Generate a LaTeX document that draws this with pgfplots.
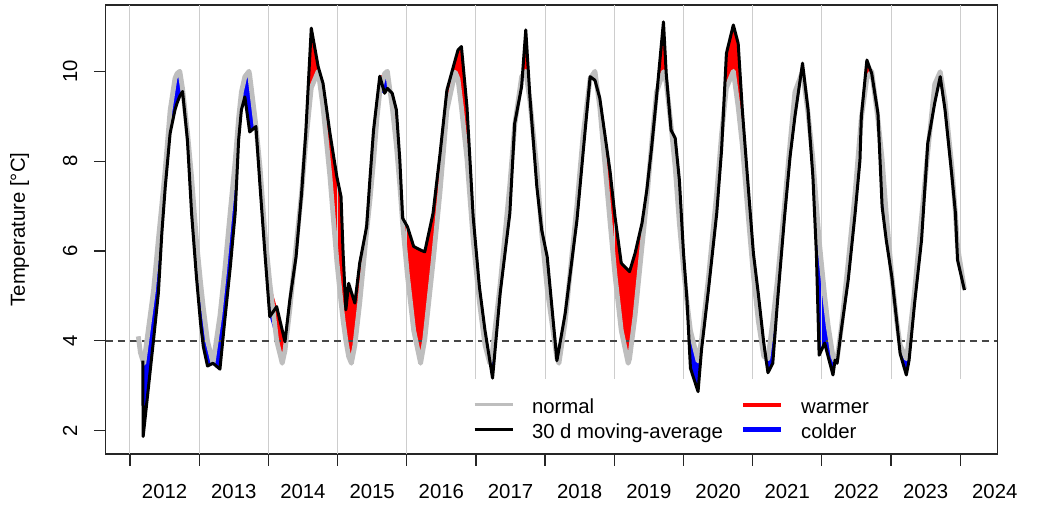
\documentclass[border=0pt]{standalone}
\usepackage{fontspec}
\setmainfont{Liberation Sans}
\usepackage{pgfplots}
\usepackage{pgfplotstable}
\usepgfplotslibrary{fillbetween}
\pgfplotsset{compat=1.18}
\definecolor{normalgray}{RGB}{190,190,190}
\definecolor{gridgray}{RGB}{205,205,205}
\definecolor{dashgray}{RGB}{70,70,70}
\pgfplotstableread{
t n m
2012.12 4.10 4.10
2012.15 3.74 3.74
2012.185 3.56 3.56
2012.19 3.54 1.87
2012.20 3.50 2.01
2012.34 5.12 4.02
2012.41 6.26 5.06
2012.46 7.03 6.39
2012.51 7.83 7.43
2012.58 9.13 8.62
2012.65 9.84 9.14
2012.68 9.95 9.29
2012.72 10.00 9.45
2012.76 9.61 9.55
2012.83 8.65 8.47
2012.89 7.65 6.84
2012.96 6.24 5.43
2013.02 5.30 4.39
2013.06 4.73 3.87
2013.12 4.00 3.44
2013.20 3.50 3.50
2013.30 4.56 3.37
2013.37 5.58 4.46
2013.45 6.89 5.65
2013.52 8.00 6.84
2013.57 8.96 8.47
2013.61 9.54 9.14
2013.66 9.88 9.43
2013.72 10.00 8.76
2013.73 9.92 8.65
2013.82 8.79 8.77
2013.88 7.85 7.43
2013.95 6.40 5.95
2014.02 5.30 4.54
2014.12 4.00 4.76
2014.20 3.50 4.24
2014.24 3.78 3.98
2014.31 4.70 4.91
2014.40 6.10 5.87
2014.48 7.30 7.28
2014.54 8.40 8.62
2014.62 9.63 10.96
2014.72 10.00 10.10
2014.79 9.20 9.73
2014.89 7.65 8.62
2014.99 5.76 7.65
2015.05 4.86 7.21
2015.08 4.45 5.95
2015.12 4.00 4.69
2015.16 3.65 5.28
2015.20 3.50 5.08
2015.25 3.90 4.84
2015.32 4.84 5.73
2015.42 6.43 6.54
2015.47 7.16 7.65
2015.52 8.00 8.69
2015.57 8.96 9.36
2015.61 9.54 9.89
2015.68 9.95 9.51
2015.72 10.00 9.62
2015.79 9.20 9.51
2015.85 8.35 9.14
2015.90 7.45 8.02
2015.94 6.61 6.73
2016.01 5.45 6.54
2016.10 4.23 6.10
2016.20 3.50 6.02
2016.26 4.03 5.98
2016.38 5.75 6.84
2016.48 7.30 8.15
2016.58 9.13 9.58
2016.70 9.98 10.25
2016.74 9.83 10.47
2016.79 9.20 10.55
2016.87 8.05 9.21
2016.96 6.24 6.76
2017.05 4.86 5.20
2017.13 3.91 4.24
2017.20 3.50 3.56
2017.24 3.78 3.17
2017.35 5.26 5.06
2017.49 7.48 6.84
2017.56 8.80 8.84
2017.66 9.88 9.66
2017.72 10.00 10.92
2017.78 9.34 9.43
2017.88 7.85 7.43
2017.95 6.40 6.47
2018.03 5.15 5.87
2018.17 3.61 3.56
2018.20 3.50 3.82
2018.29 4.43 4.61
2018.46 7.03 6.69
2018.55 8.60 8.21
2018.65 9.84 9.88
2018.72 10.00 9.80
2018.79 9.20 9.40
2018.94 6.61 7.75
2019.01 5.45 6.76
2019.10 4.23 5.73
2019.20 3.50 5.57
2019.22 3.60 5.54
2019.30 4.56 5.95
2019.40 6.10 6.62
2019.47 7.16 7.36
2019.54 8.40 8.32
2019.61 9.54 9.43
2019.71 9.99 11.10
2019.75 9.75 9.95
2019.82 8.79 8.69
2019.88 7.85 8.51
2019.94 6.61 7.58
2020.00 5.60 5.95
2020.05 4.86 4.91
2020.10 4.23 3.39
2020.21 3.55 2.87
2020.26 4.03 3.80
2020.36 5.40 5.13
2020.48 7.30 6.84
2020.55 8.60 8.25
2020.62 9.63 10.40
2020.72 10.00 11.03
2020.79 9.20 10.62
2020.85 8.35 9.14
2020.92 7.04 7.73
2021.01 5.45 5.95
2021.08 4.45 5.06
2021.16 3.65 3.95
2021.22 3.60 3.29
2021.29 4.43 3.50
2021.36 5.40 4.91
2021.46 7.03 6.76
2021.54 8.40 8.10
2021.61 9.54 8.99
2021.72 10.00 10.18
2021.80 9.06 9.14
2021.87 8.05 7.65
2021.92 7.04 5.95
2021.96 6.24 3.68
2022.04 5.00 3.95
2022.09 4.34 3.65
2022.16 3.65 3.24
2022.19 3.54 3.57
2022.22 3.60 3.50
2022.28 4.29 4.24
2022.38 5.75 5.35
2022.48 7.30 6.84
2022.55 8.60 8.02
2022.57 8.96 8.99
2022.65 9.84 10.25
2022.72 10.00 9.95
2022.81 8.93 9.06
2022.87 8.05 6.99
2022.93 6.83 6.24
2023.01 5.45 5.43
2023.08 4.45 4.46
2023.13 3.91 3.72
2023.22 3.60 3.24
2023.26 4.03 3.57
2023.34 5.12 4.84
2023.44 6.75 6.24
2023.53 8.20 8.40
2023.63 9.71 9.29
2023.71 9.99 9.88
2023.78 9.34 9.14
2023.88 7.85 7.65
2023.93 6.83 6.84
2023.96 6.10 5.80
2024.06 5.15 5.13
}\data
\begin{document}
\begin{tikzpicture}
\begin{axis}[
  scale only axis, width=445.9bp, height=224.5bp,
  xmin=2011.646, xmax=2024.535, ymin=1.481, ymax=11.475,
  axis line style={black!85, line width=0.6bp},
  tick style={black!85, line width=0.6bp},
  major tick length=5.8bp, tick align=outside,
  xtick pos=bottom, ytick pos=left,
  xtick={2012,...,2024}, ytick={2,4,...,10},
  /pgf/number format/assume math mode=true,
  /pgf/number format/1000 sep={},
  tick label style={font=\fontsize{10.2}{12}\selectfont},
  xticklabel style={anchor=base, xshift=17.3bp},
  xticklabel shift=16.35bp,
  yticklabel style={rotate=90, anchor=base},
  yticklabel shift=8.4bp,
  ylabel={Temperature [°C]},
  every axis y label/.style={at={(axis description cs:-0.0903,0.5)}, rotate=90, anchor=base, font=\fontsize{10.2}{12}\selectfont},
  legend image code/.code={\draw[#1] (0bp,0bp) -- (19bp,0bp);},
  legend columns=2, transpose legend,
  legend cell align=left,
  legend style={draw=none, fill=none, at={(axis description cs:0.4121,0.1334)}, anchor=north west,
    inner sep=0pt, outer sep=0pt, font=\fontsize{10.2}{12}\selectfont,
    nodes={inner sep=0pt, text height=9.6bp, text depth=1.2bp},
    row sep=1.55bp, column sep=9bp},
]
\pgfplotsinvokeforeach{2012,...,2016}{
  \addplot[gridgray, line width=0.5bp, forget plot] coordinates {(#1,1.481) (#1,11.475)};
}
\pgfplotsinvokeforeach{2017,...,2024}{
  \addplot[gridgray, line width=0.5bp, forget plot] coordinates {(#1,3.16) (#1,11.475)};
}
\addplot[dashgray, line width=0.7bp, dash pattern=on 3.5bp off 2.5bp, forget plot] coordinates {(2011.646,4) (2024.535,4)};
\addplot[normalgray, line width=2.4bp, line join=round, forget plot] table[x=t, y=n] {\data};
\addplot[draw=none, name path=N, forget plot] table[x=t, y=n] {\data};
\addplot[draw=none, name path=U, forget plot] table[x=t, y expr={max(\thisrow{n},\thisrow{m})}] {\data};
\addplot[draw=none, name path=L, forget plot] table[x=t, y expr={min(\thisrow{n},\thisrow{m})}] {\data};
\addplot[red, forget plot] fill between[of=N and U];
\addplot[blue, forget plot] fill between[of=N and L];
\addplot[black, line width=1.5bp, line join=round, restrict x to domain=2012.188:2025, forget plot] table[x=t, y=m] {\data};
\addlegendimage{normalgray, line width=1.4bp}
\addlegendentry{normal}
\addlegendimage{black, line width=1.5bp}
\addlegendentry{30 d moving-average}
\addlegendimage{red, line width=2.1bp}
\addlegendentry{warmer}
\addlegendimage{blue, line width=2.1bp}
\addlegendentry{colder}
\end{axis}
\pgfresetboundingbox
\path[use as bounding box] ([xshift=-52.75bp, yshift=-26bp]current axis.south west) rectangle ([xshift=19.85bp, yshift=2.5bp]current axis.north east);
\end{tikzpicture}
\end{document}
